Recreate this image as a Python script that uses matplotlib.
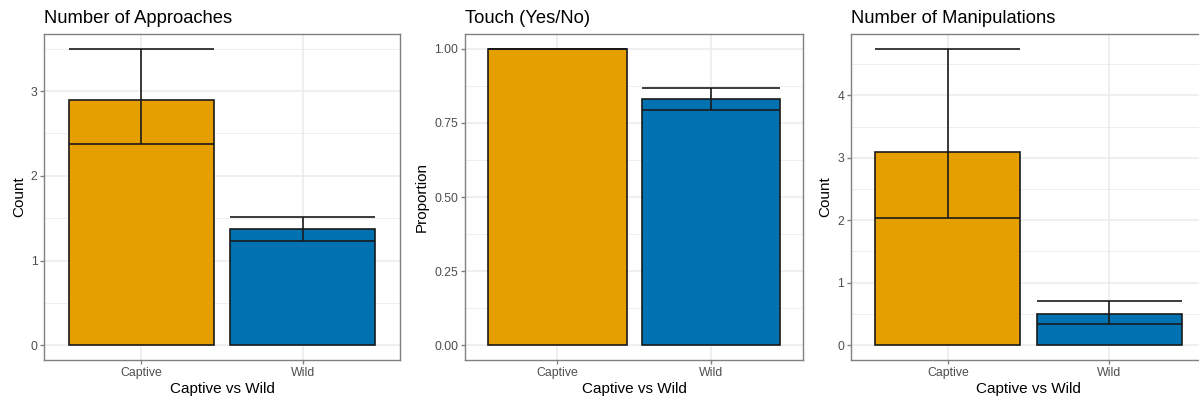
import matplotlib.pyplot as plt
from matplotlib.ticker import FixedLocator, FormatStrFormatter

plt.rcParams['font.family'] = ['Liberation Sans', 'DejaVu Sans']

# Group labels and fill colours
groups = ['Captive', 'Wild']
fills = ['#E69F00', '#0072B2']

# Number of approaches (mean, error bar low/high)
approach_mean = [2.89, 1.37]
approach_lo = [2.38, 1.235]
approach_hi = [3.50, 1.515]

# Touch (proportion)
touch_mean = [1.0, 0.832]
touch_lo = [1.0, 0.795]
touch_hi = [1.0, 0.868]

# Number of manipulations
manip_mean = [3.10, 0.495]
manip_lo = [2.03, 0.34]
manip_hi = [4.745, 0.71]

panels = [
    ('Number of Approaches', 'Count', approach_mean, approach_lo, approach_hi,
     [0, 1, 2, 3], [0.5, 1.5, 2.5, 3.5], '%d'),
    ('Touch (Yes/No)', 'Proportion', touch_mean, touch_lo, touch_hi,
     [0, 0.25, 0.5, 0.75, 1.0], [0.125, 0.375, 0.625, 0.875], '%.2f'),
    ('Number of Manipulations', 'Count', manip_mean, manip_lo, manip_hi,
     [0, 1, 2, 3, 4], [0.5, 1.5, 2.5, 3.5, 4.5], '%d'),
]

# axes boxes in figure fractions (left, bottom, width, height)
boxes = [
    [0.0371, 0.10, 0.2961, 0.815],
    [0.3878, 0.10, 0.2823, 0.815],
    [0.7098, 0.10, 0.2961, 0.815],
]

fig = plt.figure(figsize=(11.99, 4.0), dpi=100)
border = '#808080'
grid_col = '#EBEBEB'
ink = '#1A1A1A'

for box, (title, ylab, mean, lo, hi, major, minor, fmt) in zip(boxes, panels):
    ax = fig.add_axes(box)
    x = [1, 2]
    ax.bar(x, mean, width=0.9, color=fills, edgecolor=ink, linewidth=1.2, zorder=3)
    # error bars: whisker plus caps as wide as the bars
    left = [v - 0.45 for v in x]
    right = [v + 0.45 for v in x]
    ax.vlines(x, lo, hi, color=ink, linewidth=1.2, zorder=4)
    ax.hlines(lo, left, right, color=ink, linewidth=1.2, zorder=4)
    ax.hlines(hi, left, right, color=ink, linewidth=1.2, zorder=4)

    top = max(max(hi), max(mean))
    ax.set_ylim(-0.05 * top, top * 1.05)
    ax.set_xlim(0.4, 2.6)

    ax.yaxis.set_major_locator(FixedLocator(major))
    ax.yaxis.set_minor_locator(FixedLocator(minor))
    ax.yaxis.set_major_formatter(FormatStrFormatter(fmt))
    ax.set_xticks(x)
    ax.set_xticklabels(groups)

    ax.grid(which='major', color=grid_col, linewidth=1.1, zorder=0)
    ax.grid(which='minor', axis='y', color=grid_col, linewidth=0.6, zorder=0)
    ax.set_axisbelow(True)

    for s in ax.spines.values():
        s.set_color(border)
        s.set_linewidth(1.0)

    ax.tick_params(which='major', length=2.75, width=1.0, color=border,
                   labelsize=8.8, labelcolor='#4D4D4D', pad=2.2)
    ax.tick_params(which='minor', length=0)

    ax.set_xlabel('Captive vs Wild', fontsize=11, labelpad=2.5)
    ax.set_ylabel(ylab, fontsize=11, labelpad=3.5)
    ax.set_title(title, loc='left', fontsize=13.2, pad=8)

fig.savefig('out.png', dpi=100)
